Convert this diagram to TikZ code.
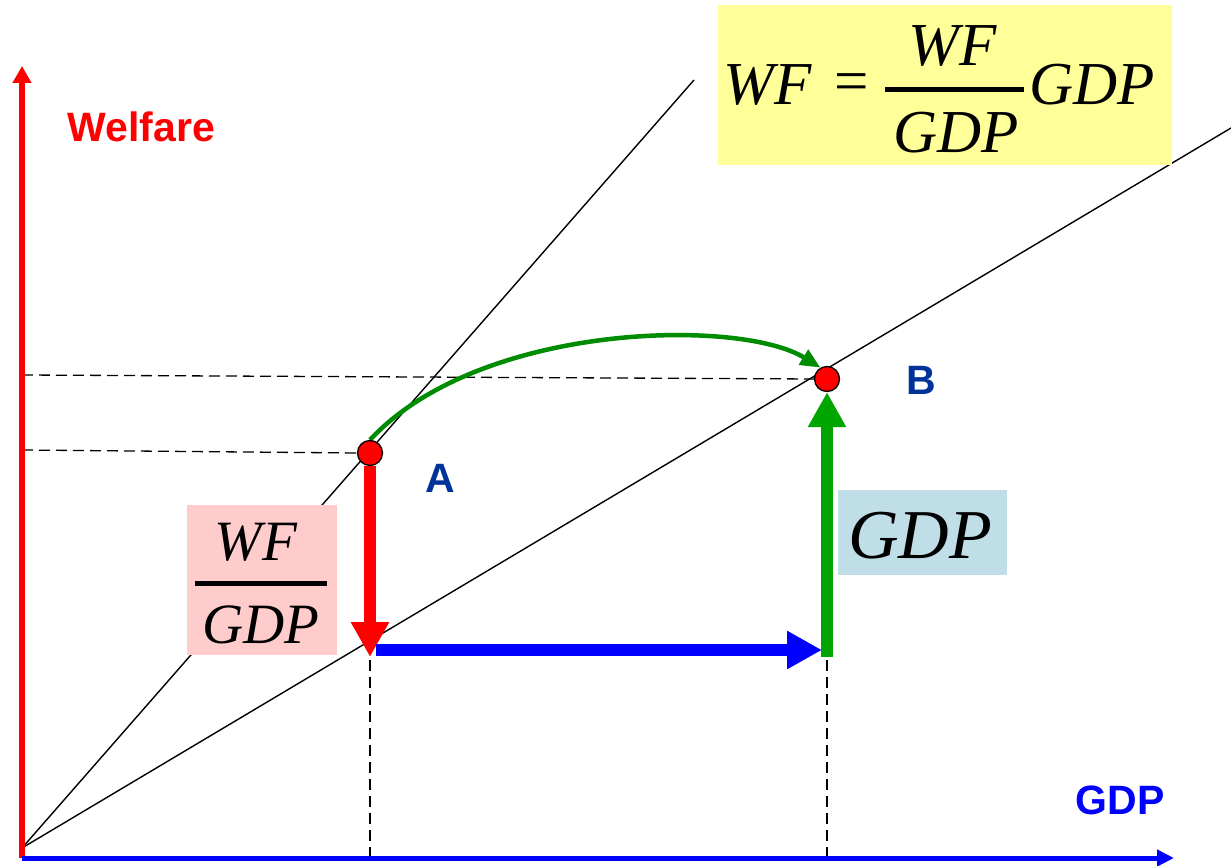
\documentclass[tikz,border=0pt]{standalone}
\usepackage{fontspec}
\setmainfont{Liberation Serif}
\setsansfont{Liberation Sans}
\usetikzlibrary{arrows.meta}
\definecolor{axred}{RGB}{255,0,0}
\definecolor{axblue}{RGB}{0,0,255}
\definecolor{lblue}{RGB}{0,51,153}
\definecolor{ggreen}{RGB}{0,165,0}
\definecolor{cgreen}{RGB}{0,140,0}
\definecolor{fyellow}{RGB}{255,255,153}
\definecolor{fpink}{RGB}{255,204,204}
\definecolor{fblue}{RGB}{191,222,232}
\begin{document}
\begin{tikzpicture}[x=1pt,y=-1pt,
  lbl/.style={font=\sffamily\bfseries\fontsize{41}{49}\selectfont, inner sep=0pt, anchor=base},
  mth/.style={font=\itshape\fontsize{57}{68}\selectfont, inner sep=0pt, anchor=base},
  bigmth/.style={font=\itshape\fontsize{61}{73}\selectfont, inner sep=0pt, anchor=base},
  thinline/.style={black, line width=1.4pt},
  guide/.style={black, line width=1.3pt, dash pattern=on 11pt off 6pt},
  fatarrow/.style={line width=12pt, -{Triangle[length=35pt,width=36pt]}},
  fracbar/.style={black, line width=5pt},
  dot/.style={circle, draw=black, line width=1.3pt, fill=red, minimum size=25pt, inner sep=0pt}
]
\fill[white] (0,0) rectangle (1231,866);
\useasboundingbox (0,0) rectangle (1231,866);

% coordinates
\coordinate (O) at (22,848);
\coordinate (S1) at (694,80);
\coordinate (S2) at (1231,128);
\coordinate (ybot) at (22,858);
\coordinate (ytop) at (22,66);
\coordinate (xend) at (1174,858);
\coordinate (yA) at (22,450);
\coordinate (yB) at (22,375);
\coordinate (xA) at (370,858);
\coordinate (xB) at (827,858);
\coordinate (xAtop) at (370,660);
\coordinate (xBtop) at (827,660);
\coordinate (redtip) at (370,657);
\coordinate (bluestart) at (376,650);
\coordinate (bluetip) at (822,650);
\coordinate (greenstart) at (827,657);

% rays
\draw[thinline] (O) -- (S1);
\draw[thinline] (O) -- (S2);

% boxes
\fill[fyellow] (718,5) rectangle (1172,165);
\fill[fpink] (187,505) rectangle (337,655);
\fill[fblue] (838,490) rectangle (1007,575);

% dot nodes (placed, drawn later)
\path (370,453) node[dot, draw=none, fill=none] (A) {};
\path (827,379) node[dot, draw=none, fill=none] (B) {};

% guides
\draw[guide] (yA) -- (A.west);
\draw[guide] (yB) -- (B.west);
\draw[guide] (xAtop) -- (xA);
\draw[guide] (xBtop) -- (xB);

% axes
\draw[axred, line width=6pt, -{Triangle[length=17pt,width=18pt]}] (ybot) -- (ytop);
\draw[axblue, line width=5pt, -{Triangle[length=17pt,width=16pt]}] (ybot) -- (xend);

% fat arrows
\draw[fatarrow, axred] (A.south) -- (redtip);
\draw[fatarrow, axblue] (bluestart) -- (bluetip);
\draw[fatarrow, ggreen] (greenstart) -- (B.south);

% curve
\draw[cgreen, line width=4.5pt, -{Triangle[length=20pt,width=17pt]}]
  (A.north) .. controls (480,322) and (740,318) .. (B.120);

% dots
\node[dot] (Adot) at (A) {};
\node[dot] (Bdot) at (B) {};

% labels
\node[lbl, text=axred] (welfare) at (141.5,142) {Welfare};
\node[lbl, text=axblue] (gdpaxis) at (1120,814) {GDP};
\node[lbl, text=lblue] (labA) at (440,492) {A};
\node[lbl, text=lblue] (labB) at (921,394) {B};

% formula
\node[bigmth] (wf1) at (768,105) {WF};
\node[font=\fontsize{61}{73}\selectfont, inner sep=0pt] (eq) at (852,88) {=};
\node[bigmth] (wfnum) at (953,66) {WF};
\draw[fracbar] (885,90) -- (1024,90);
\node[bigmth] (gdpden) at (956,153) {GDP};
\node[bigmth] (gdp1) at (1092,105) {GDP};

% pink fraction
\node[mth] (wfp) at (256,560) {WF};
\draw[fracbar] (195,583) -- (327,583);
\node[mth] (gdpp) at (261,643) {GDP};

% blue box
\node[mth, font=\itshape\fontsize{70}{84}\selectfont] (gdpb) at (920,558) {GDP};
\end{tikzpicture}
\end{document}
